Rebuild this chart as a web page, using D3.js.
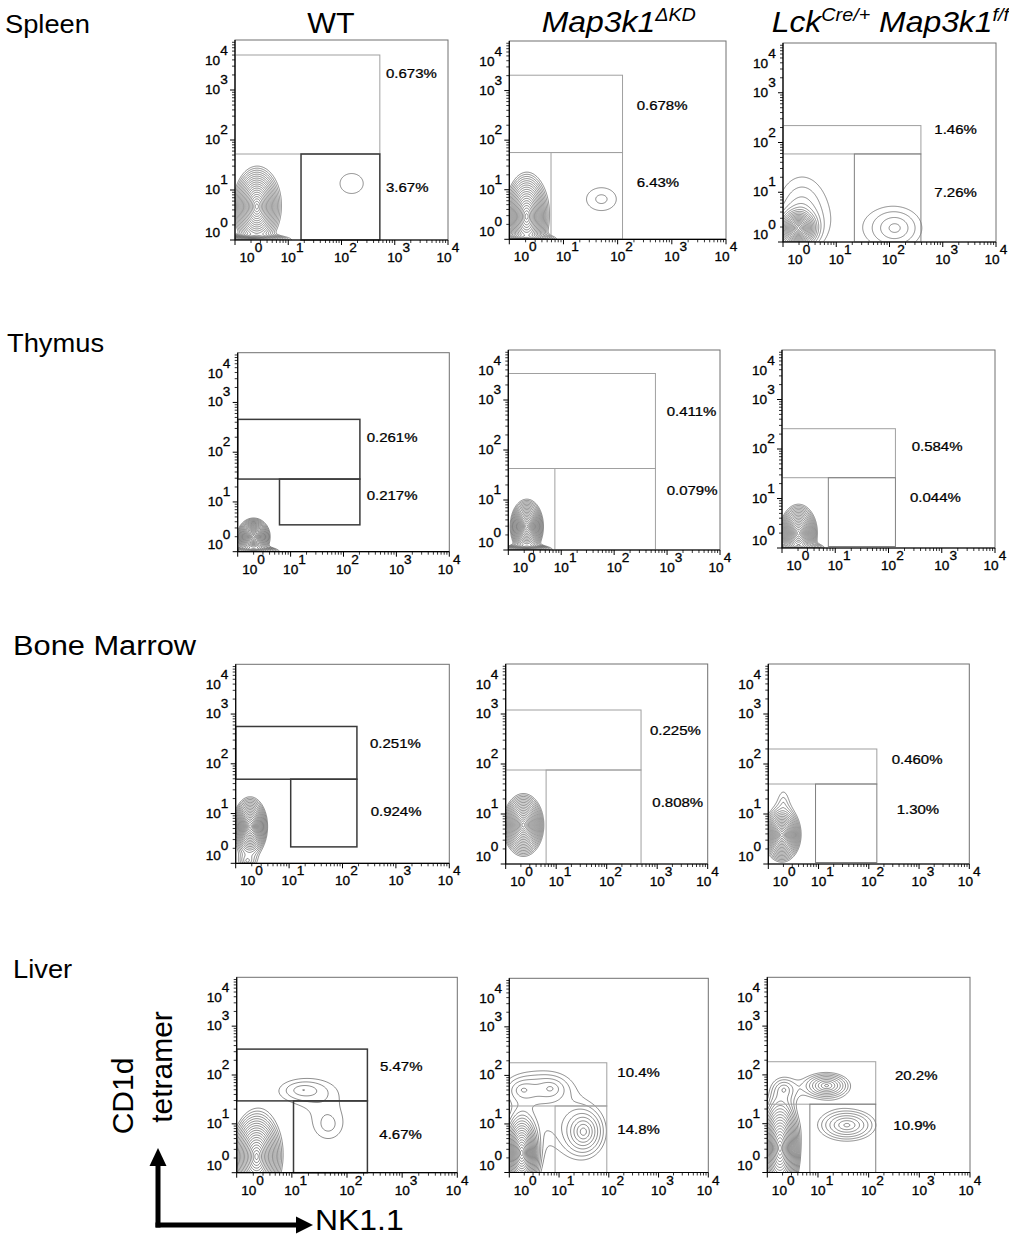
<!DOCTYPE html>
<html><head><meta charset="utf-8">
<script src="https://cdn.jsdelivr.net/npm/d3@7"></script>
<style>body{margin:0;background:#fff}svg{display:block}text{font-family:"Liberation Sans",Arial,sans-serif}</style>
</head><body>
<svg id="c" width="1009" height="1239"></svg>
<script>
// ================= DATA =================
const rowLabels = ["Spleen", "Thymus", "Bone Marrow", "Liver"];
const tickExponents = [0, 1, 2, 3, 4];
const minorMultipliers = [2, 3, 4, 5, 6, 7, 8, 9];
// gates (log10 units). upper gate: [xMax, yLow, yHigh], starting at x = 10^0
const upperGates = [
  [2.72, 1.72, 3.70], [2.09, 1.75, 3.31], [2.59, 1.77, 2.34],
  [2.31, 1.46, 2.66], [2.78, 1.63, 3.53], [2.13, 1.42, 2.41],
  [2.27, 1.69, 2.75], [2.68, 1.88, 3.08], [2.16, 1.60, 2.30],
  [2.37, 1.47, 2.53], [1.96, 1.37, 2.26], [2.14, 1.40, 2.27]
];
// lower gate: [xMin, yMin]; xMax and yHigh are shared with the upper gate
const lowerGates = [
  [1.24, 0], [0.77, 0], [1.34, 0],
  [0.79, 0.54], [0.88, 0], [0.87, 0.03],
  [1.03, 0.33], [0.80, 0], [0.94, 0.03],
  [1.03, 0], [0.92, 0], [0.84, 0]
];
const upperPct = ["0.673%", "0.678%", "1.46%", "0.261%", "0.411%", "0.584%", "0.251%", "0.225%", "0.460%", "5.47%", "10.4%", "20.2%"];
const lowerPct = ["3.67%", "6.43%", "7.26%", "0.217%", "0.079%", "0.044%", "0.924%", "0.808%", "1.30%", "4.67%", "14.8%", "10.9%"];
// cell populations per panel: [centre log x, centre log y, spread x, spread y (decades), peak density]
const populations = [
  [[0.41, 0.67, 0.14, 0.25, 140], [0.35, 0.0, 0.25, 0.04, 40], [2.19, 1.13, 0.36, 0.33, 1.2]],
  [[0.32, 0.46, 0.128, 0.28, 140], [0.30, 0.0, 0.2, 0.04, 40], [1.70, 0.81, 0.31, 0.26, 1.48]],
  [[0.29, 0.28, 0.12, 0.13, 140], [0.35, 0.6, 0.35, 0.55, 2.2], [2.10, 0.28, 0.37, 0.31, 2.5]],
  [[0.30, 0.30, 0.10, 0.12, 140], [0.30, 0.0, 0.18, 0.04, 40]],
  [[0.35, 0.47, 0.10, 0.174, 140], [0.35, 0.0, 0.18, 0.04, 40]],
  [[0.31, 0.30, 0.113, 0.186, 140], [0.30, 0.0, 0.18, 0.04, 40]],
  [[0.27, 0.74, 0.104, 0.19, 140], [0.22, 0.05, 0.1, 0.1, 3]],
  [[0.35, 0.78, 0.129, 0.2, 140]],
  [[0.27, 0.58, 0.119, 0.17, 140], [0.3, 1.2, 0.1, 0.25, 1.5]],
  [[0.36, 0.33, 0.148, 0.30, 140], [1.21, 1.69, 0.316, 0.16, 1.93], [1.66, 0.98, 0.26, 0.30, 1.5]],
  [[0.25, 0.40, 0.12, 0.28, 140], [0.28, 1.70, 0.2, 0.15, 2.2], [0.83, 1.73, 0.2, 0.15, 2.2], [1.49, 0.84, 0.19, 0.23, 7.2], [0.8, 1.0, 0.4, 0.4, 1.2]],
  [[0.25, 0.50, 0.13, 0.35, 140], [1.17, 1.78, 0.22, 0.127, 9.3], [0.33, 1.70, 0.15, 0.15, 2.5], [1.57, 0.97, 0.31, 0.178, 5.5]]
];

// ================= LAYOUT / STYLE =================
const frames = [
  [235, 40, 213, 200], [509.3, 41, 216.7, 198.3], [783, 43, 213, 199],
  [237.7, 352.7, 211.6, 199], [508.3, 350, 211.7, 200], [782, 350, 213, 198],
  [235.7, 664.3, 213.6, 199], [505.7, 664, 202, 200], [768.3, 664, 201, 200],
  [236.7, 977.3, 220.6, 195.4], [509.3, 978.3, 199, 194.2], [767.3, 977.3, 202.7, 195.2]
];
const DARK = ["#3a3a3a", 1.5], LIGHT = ["#a0a0a0", 1], MID = ["#808080", 1];
const gateStyles = [
  [LIGHT, DARK], [LIGHT, LIGHT], [LIGHT, MID],
  [DARK, DARK], [LIGHT, LIGHT], [LIGHT, MID],
  [DARK, DARK], [LIGHT, LIGHT], [LIGHT, MID],
  [DARK, DARK], [LIGHT, LIGHT], [LIGHT, MID]
];
const labelPos = [
  [[151, 33], [151, 147]], [[127.4, 64], [127.4, 141.7]], [[151.3, 86.3], [151.3, 149.3]],
  [[129, 84.6], [129, 142.3]], [[158.4, 61.7], [158.4, 140]], [[129.7, 96.7], [128, 147.7]],
  [[134.3, 79], [135, 147.4]], [[144.3, 66.7], [146.6, 138.7]], [[123.4, 95], [128.4, 145.3]],
  [[143.3, 88.7], [142.6, 157]], [[108, 94.4], [108, 151]], [[127.7, 97.7], [126, 147.7]]
];
const rowLabelPos = [[5, 33, 26, 1.05], [7, 352, 26, 1.05], [13, 655, 28, 1.1], [13, 978, 26, 1.05]];

const svg = d3.select("#c");
const thresholds = d3.range(0, 26).map(k => Math.pow(1.3, k));
const KERNEL_POWER = 1.15;

function scaledText(parent, x, y, sx) {
  return parent.append("g").attr("transform", `translate(${x},${y}) scale(${sx},1)`).append("text");
}

frames.forEach((f, p) => {
  const [fx, fy, w, h] = f;
  const x = d3.scaleLinear().domain([0, 4]).range([fx, fx + w]);
  const y = d3.scaleLinear().domain([0, 4]).range([fy + h, fy]);
  const g = svg.append("g");

  // ---- contours ----
  const nx = Math.round(w), ny = Math.round(h);
  const vals = new Float64Array(nx * ny);
  const pops = populations[p].map(([cx, cy, sx, sy, a]) => {
    const la = Math.log(a);
    const c = la / Math.pow(2 * la, KERNEL_POWER / 2);
    return {cx, cy, sx, sy, a, c};
  });
  for (let j = 0; j < ny; j++) {
    const ly = y.invert(fy + (j + 0.5) * h / ny);
    for (let i = 0; i < nx; i++) {
      const lx = x.invert(fx + (i + 0.5) * w / nx);
      let s = 0;
      for (const q of pops) {
        const dx = (lx - q.cx) / q.sx, dy = (ly - q.cy) / q.sy;
        const u = Math.sqrt(dx * dx + dy * dy);
        s += q.a * Math.exp(-q.c * Math.pow(u, KERNEL_POWER));
      }
      vals[i + j * nx] = s;
    }
  }
  const cont = d3.contours().size([nx, ny]).thresholds(thresholds)(vals);
  const clipId = "clip" + p;
  svg.append("clipPath").attr("id", clipId).append("rect").attr("x", fx).attr("y", fy).attr("width", w).attr("height", h);
  g.append("g").attr("clip-path", `url(#${clipId})`)
    .append("g").attr("transform", `translate(${fx},${fy}) scale(${w / nx},${h / ny})`)
    .selectAll("path").data(cont).join("path")
    .attr("d", d3.geoPath())
    .attr("fill", "none").attr("stroke", "#404040").attr("stroke-width", 0.6)
    .attr("vector-effect", "non-scaling-stroke");

  // ---- frame ----
  g.append("rect").attr("x", fx).attr("y", fy).attr("width", w).attr("height", h)
    .attr("fill", "none").attr("stroke", "#707070").attr("stroke-width", 1);

  // ---- gates ----
  const [uxMax, uyLow, uyHigh] = upperGates[p];
  const [lxMin, lyMin] = lowerGates[p];
  const [us, ls] = gateStyles[p];
  g.append("rect").attr("x", x(0)).attr("y", y(uyHigh)).attr("width", x(uxMax) - x(0)).attr("height", y(uyLow) - y(uyHigh))
    .attr("fill", "none").attr("stroke", us[0]).attr("stroke-width", us[1]);
  g.append("rect").attr("x", x(lxMin)).attr("y", y(uyLow)).attr("width", x(uxMax) - x(lxMin)).attr("height", y(lyMin) - y(uyLow))
    .attr("fill", "none").attr("stroke", ls[0]).attr("stroke-width", ls[1]);

  // ---- axes lines ----
  g.append("line").attr("x1", fx).attr("x2", fx).attr("y1", fy).attr("y2", fy + h).attr("stroke", "#000").attr("stroke-width", 1.2);
  g.append("line").attr("x1", fx).attr("x2", fx + w).attr("y1", fy + h).attr("y2", fy + h).attr("stroke", "#000").attr("stroke-width", 1.2);

  // ticks
  const minors = [];
  for (let d = 0; d < 4; d++) minorMultipliers.forEach(m => minors.push(d + Math.log10(m)));
  g.selectAll(".xmin").data(minors).join("line")
    .attr("x1", d => x(d)).attr("x2", d => x(d)).attr("y1", fy + h).attr("y2", fy + h + 3)
    .attr("stroke", "#000").attr("stroke-width", 0.8);
  g.selectAll(".xmaj").data(tickExponents).join("line")
    .attr("x1", d => x(d)).attr("x2", d => x(d)).attr("y1", fy + h).attr("y2", fy + h + 5)
    .attr("stroke", "#000").attr("stroke-width", 1);
  g.selectAll(".ymin").data(minors).join("line")
    .attr("y1", d => y(d)).attr("y2", d => y(d)).attr("x1", fx).attr("x2", fx - 3)
    .attr("stroke", "#000").attr("stroke-width", 0.8);
  g.selectAll(".ymaj").data(tickExponents.slice(0, 4)).join("line")
    .attr("y1", d => y(d)).attr("y2", d => y(d)).attr("x1", fx).attr("x2", fx - 5)
    .attr("stroke", "#000").attr("stroke-width", 1);

  // tick labels x
  tickExponents.forEach(e => {
    const shift = e === 0 ? 12 : (e === 4 ? -4 : 0);
    const t = scaledText(g, x(e) + shift - 7.5, fy + h + 22, 1.05).attr("font-size", 13)
      .attr("stroke", "#000").attr("stroke-width", 0.3);
    t.append("tspan").text("10");
    t.append("tspan").attr("dy", -10).text(e);
  });
  // tick labels y (10^4 label sits at 3.58 decades)
  tickExponents.forEach(e => {
    const pos = e === 4 ? 3.58 : e;
    const base = e === 0 ? y(pos) - 3 : y(pos) + 4;
    const t = scaledText(g, fx - 30, base, 1.05).attr("font-size", 13)
      .attr("stroke", "#000").attr("stroke-width", 0.3);
    t.append("tspan").text("10");
    t.append("tspan").attr("dy", -10).text(e);
  });

  // percentages
  [upperPct[p], lowerPct[p]].forEach((txt, k) => {
    const [lx, ly] = labelPos[p][k];
    scaledText(g, fx + lx, fy + ly + 4.5, 1.2).attr("font-size", 12.5)
      .attr("stroke", "#000").attr("stroke-width", 0.25).text(txt);
  });
});

// ================= TITLES =================
rowLabels.forEach((r, i) => {
  const [lx, ly, fs, sx] = rowLabelPos[i];
  scaledText(svg, lx, ly, sx).attr("font-size", fs).text(r);
});
scaledText(svg, 331, 33, 1.05).attr("font-size", 29).attr("text-anchor", "middle").text("WT");
{
  const t = scaledText(svg, 541.7, 32, 1.1).attr("font-size", 29).attr("font-style", "italic");
  t.append("tspan").text("Map3k1");
  t.append("tspan").attr("font-size", 18).attr("dy", -11).text("\u0394KD");
}
{
  const t = scaledText(svg, 771.7, 32, 1.1).attr("font-size", 29).attr("font-style", "italic");
  t.append("tspan").text("Lck");
  t.append("tspan").attr("font-size", 18).attr("dy", -11).text("Cre/+");
  t.append("tspan").attr("dy", 11).text(" Map3k1");
  t.append("tspan").attr("font-size", 18).attr("dy", -11).text("f/f");
}

// axis names and arrows
svg.append("text").attr("transform", "translate(133.3,1096) rotate(-90)").attr("text-anchor", "middle").attr("font-size", 30).text("CD1d");
svg.append("text").attr("transform", "translate(171.7,1067) rotate(-90)").attr("text-anchor", "middle").attr("font-size", 30).text("tetramer");
scaledText(svg, 315, 1230, 1.1).attr("font-size", 29).text("NK1.1");
svg.append("path").attr("d", "M158,1227.5 V1164").attr("stroke", "#000").attr("stroke-width", 5).attr("fill", "none");
svg.append("path").attr("d", "M155.5,1225 H297").attr("stroke", "#000").attr("stroke-width", 5).attr("fill", "none");
svg.append("path").attr("d", "M149.5,1166 L158,1148 L166.5,1166 Z").attr("fill", "#000");
svg.append("path").attr("d", "M296,1216.5 L313,1225 L296,1233.5 Z").attr("fill", "#000");
</script>
</body></html>
